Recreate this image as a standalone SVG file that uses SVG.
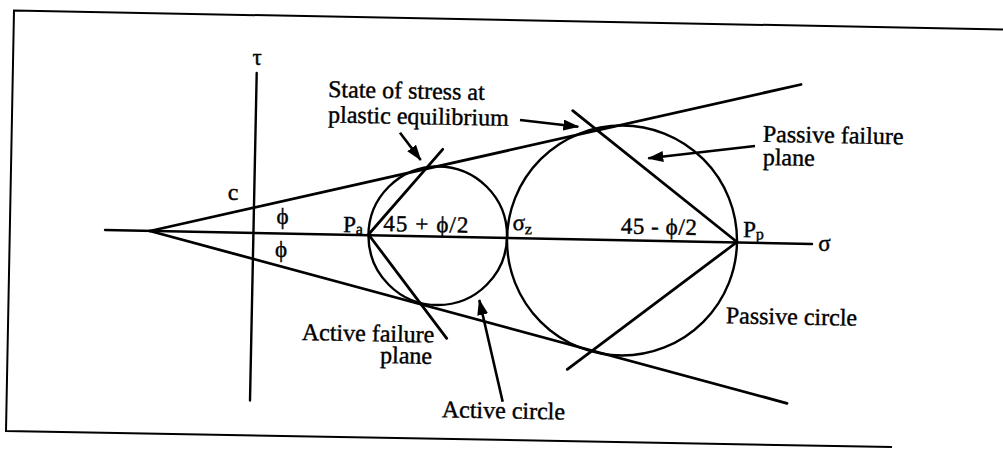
<svg xmlns="http://www.w3.org/2000/svg" width="1003" height="449" viewBox="0 0 1003 449">
<style>
.ln{fill:none;stroke:#000;stroke-width:2.8;stroke-linecap:round}
.ax{fill:none;stroke:#000;stroke-width:2.4;stroke-linecap:round}
.cir{fill:none;stroke:#000;stroke-width:2.4}
.frm{fill:none;stroke:#000;stroke-width:2;stroke-linejoin:miter}
.arr{fill:none;stroke:#000;stroke-width:2.6;marker-end:url(#ah)}
text{font-family:"Liberation Serif","Times New Roman",serif;fill:#000;stroke:#000;stroke-width:0.4}
.lb{font-size:24px}
.sy{font-size:23px}
.sb{font-size:16px}
</style>
<defs>
<marker id="ah" markerUnits="userSpaceOnUse" markerWidth="16" markerHeight="11" refX="15" refY="5.5" orient="auto" viewBox="0 0 16 11">
<path d="M0,0 L16,5.5 L0,11 z" fill="#000"/>
</marker>
</defs>
<rect x="0" y="0" width="1003" height="449" fill="#fff"/>
<g id="frame">
<polyline class="frm" points="1003,29.5 14,10.5 6,431 892,447"/>
</g>
<g id="axes">
<line class="ax" x1="105" y1="230" x2="812" y2="244"/>
<line class="ax" x1="256.7" y1="73" x2="250" y2="400.5"/>
</g>
<g id="envelope">
<line class="ln" x1="150" y1="231" x2="801" y2="84.5"/>
<line class="ln" x1="150" y1="231" x2="787" y2="403.3"/>
</g>
<g id="active-circle">
<circle class="cir" cx="437.75" cy="235.75" r="69.3"/>
</g>
<g id="passive-circle">
<circle class="cir" cx="622" cy="240.5" r="115"/>
</g>
<g id="failure-planes">
<line class="ln" x1="368.5" y1="234.5" x2="442.7" y2="149.3"/>
<line class="ln" x1="368.5" y1="234.5" x2="446.7" y2="338.3"/>
<line class="ln" x1="737" y1="242" x2="572.7" y2="110.7"/>
<line class="ln" x1="737" y1="242" x2="567.3" y2="369.3"/>
</g>
<g id="connectors">
<line class="arr" x1="400" y1="132.7" x2="420.7" y2="160"/>
<line class="arr" x1="520" y1="120" x2="578.3" y2="126.7"/>
<line class="arr" x1="755" y1="146" x2="648.3" y2="158.3"/>
<line class="arr" x1="502.7" y1="401.7" x2="479.3" y2="300"/>
</g>
<g id="axis-labels">
<text class="sy" x="257" y="65" text-anchor="middle">τ</text>
<text class="sy" x="824.5" y="250.5" text-anchor="middle">σ</text>
<text class="lb" x="233" y="200" text-anchor="middle">c</text>
<text class="sy" x="282.5" y="224" text-anchor="middle">ϕ</text>
<text class="sy" x="281" y="256.5" text-anchor="middle">ϕ</text>
</g>
<g id="point-labels">
<text class="sy" x="343" y="232" transform="rotate(1.08 343 232)">P<tspan class="sb" dy="2">a</tspan></text>
<text class="sy" x="383.3" y="231" textLength="85" lengthAdjust="spacing" transform="rotate(1.08 383.3 231)">45 + ϕ/2</text>
<text class="sy" x="512.5" y="230" transform="rotate(1.08 512.5 230)">σ<tspan class="sb" dy="4">z</tspan></text>
<text class="sy" x="620.7" y="233.5" textLength="76" lengthAdjust="spacing" transform="rotate(1.08 620.7 233.5)">45 - ϕ/2</text>
<text class="sy" x="743" y="237" transform="rotate(1.08 743 237)">P<tspan class="sb" dy="2">p</tspan></text>
</g>
<g id="label-state">
<text class="lb" x="328" y="97" transform="rotate(1.08 328 97)">State of stress at</text>
<text class="lb" x="328" y="122.5" transform="rotate(1.08 328 122.5)">plastic equilibrium</text>
</g>
<g id="label-passive-plane">
<text class="lb" x="762.7" y="141.7" transform="rotate(1.08 762.7 141.7)">Passive failure</text>
<text class="lb" x="762.7" y="165" transform="rotate(1.08 762.7 165)">plane</text>
</g>
<g id="label-passive-circle">
<text class="lb" x="725.7" y="323.3" transform="rotate(1.08 725.7 323.3)">Passive circle</text>
</g>
<g id="label-active-plane">
<text class="lb" x="301.7" y="340" transform="rotate(1.08 301.7 340)">Active failure</text>
<text class="lb" x="380" y="363" transform="rotate(1.08 380 363)">plane</text>
</g>
<g id="label-active-circle">
<text class="lb" x="441.7" y="417.3" transform="rotate(1.08 441.7 417.3)">Active circle</text>
</g>
</svg>
